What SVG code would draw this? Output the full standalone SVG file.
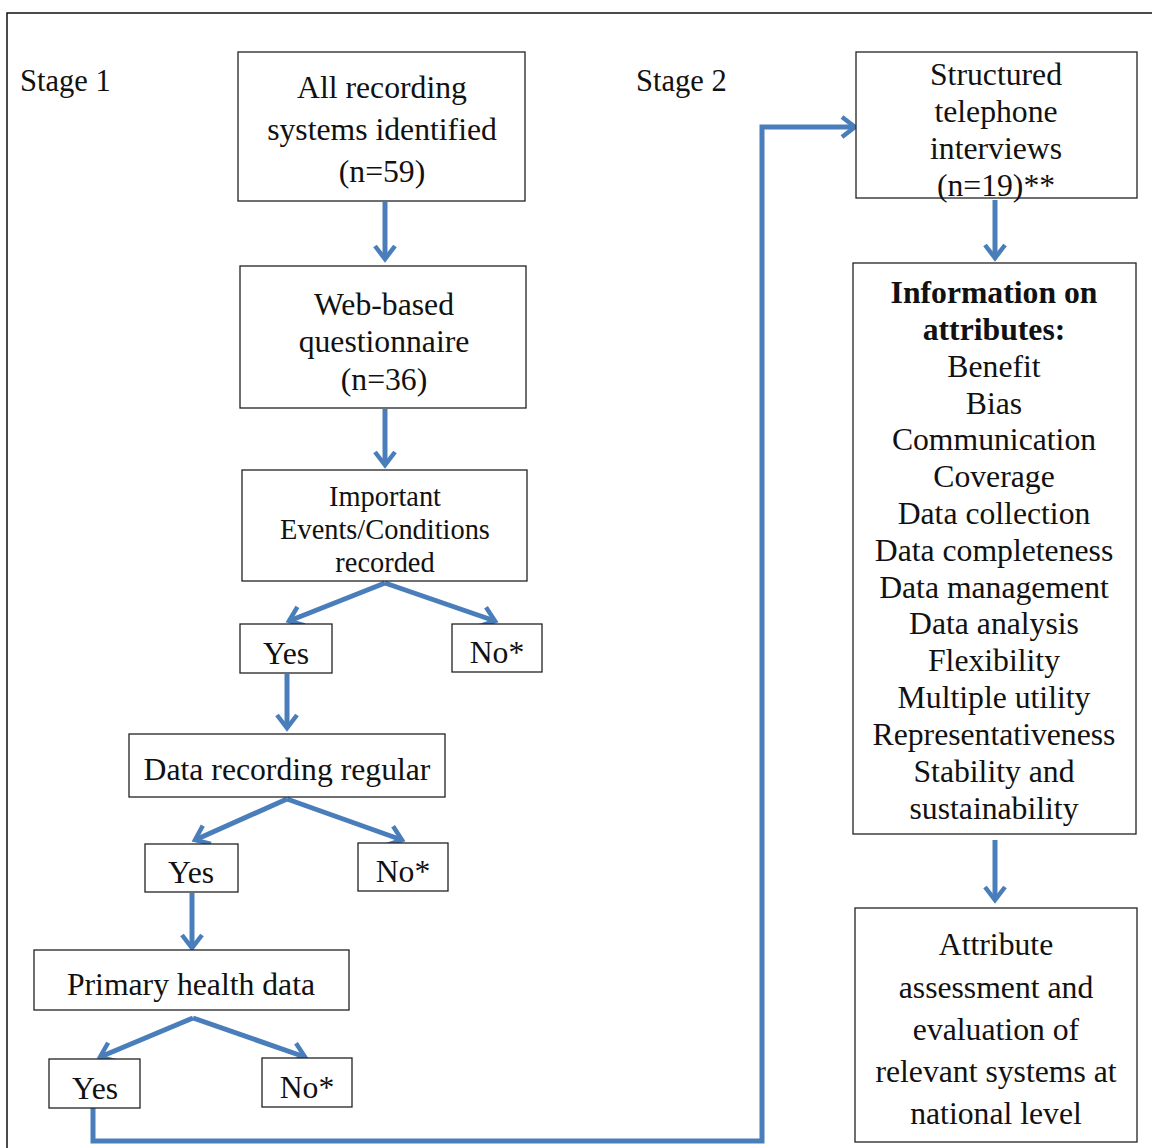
<svg xmlns="http://www.w3.org/2000/svg" width="1152" height="1148" viewBox="0 0 1152 1148">
<style>
.box{fill:#fff;stroke:#222;stroke-width:1.3}
text{font-family:"Liberation Serif","Times New Roman",serif;fill:#111;text-anchor:middle}
.t30{font-size:31.7px}
.t26{font-size:28.4px}
.lbl{font-size:30.5px;text-anchor:start}
.b{font-weight:bold}
.c{fill:none;stroke:#4a7ebb;stroke-width:5;stroke-linejoin:miter}
</style>
<defs>
<marker id="ah" markerUnits="userSpaceOnUse" markerWidth="26" markerHeight="26" refX="17" refY="13" orient="auto">
<path d="M4,3 L17,13 L4,23" fill="none" stroke="#4a7ebb" stroke-width="4.5"/>
</marker>
</defs>
<rect x="0" y="0" width="1152" height="1148" fill="#fff"/>
<rect x="7" y="13" width="1160" height="1160" fill="none" stroke="#111" stroke-width="1.5"/>
<text class="lbl" x="20" y="91">Stage 1</text>
<text class="lbl" x="636" y="91">Stage 2</text>
<g id="connectors">
<line class="c" x1="385" y1="202" x2="385" y2="259" marker-end="url(#ah)"/>
<line class="c" x1="385" y1="409" x2="385" y2="465" marker-end="url(#ah)"/>
<line class="c" x1="385" y1="583" x2="289" y2="621" marker-end="url(#ah)"/>
<line class="c" x1="385" y1="583" x2="495" y2="621" marker-end="url(#ah)"/>
<line class="c" x1="287" y1="674" x2="287" y2="728" marker-end="url(#ah)"/>
<line class="c" x1="287" y1="799" x2="195" y2="840" marker-end="url(#ah)"/>
<line class="c" x1="287" y1="799" x2="402" y2="840" marker-end="url(#ah)"/>
<line class="c" x1="192" y1="893" x2="192" y2="948" marker-end="url(#ah)"/>
<line class="c" x1="193" y1="1018" x2="100" y2="1057" marker-end="url(#ah)"/>
<line class="c" x1="193" y1="1018" x2="305" y2="1057" marker-end="url(#ah)"/>
<polyline class="c" points="93,1108 93,1141 762,1141 762,127 855,127" marker-end="url(#ah)"/>
<line class="c" x1="995" y1="200" x2="995" y2="258" marker-end="url(#ah)"/>
<line class="c" x1="995" y1="840" x2="995" y2="900" marker-end="url(#ah)"/>
</g>
<g id="n1">
<rect class="box" x="238" y="52" width="287" height="149"/>
<text class="t30" x="382" y="98">All recording</text>
<text class="t30" x="382" y="140">systems identified</text>
<text class="t30" x="382" y="182">(n=59)</text>
</g>
<g id="n2">
<rect class="box" x="240" y="266" width="286" height="142"/>
<text class="t30" x="384" y="315">Web-based</text>
<text class="t30" x="384" y="352">questionnaire</text>
<text class="t30" x="384" y="390">(n=36)</text>
</g>
<g id="n3">
<rect class="box" x="242" y="470" width="285" height="111"/>
<text class="t26" x="385" y="506">Important</text>
<text class="t26" x="385" y="539">Events/Conditions</text>
<text class="t26" x="385" y="572">recorded</text>
</g>
<g id="n4">
<rect class="box" x="240" y="624" width="92" height="49"/>
<text class="t30" x="286" y="664">Yes</text>
</g>
<g id="n5">
<rect class="box" x="452" y="624" width="90" height="48"/>
<text class="t30" x="497" y="663">No*</text>
</g>
<g id="n6">
<rect class="box" x="129" y="734" width="316" height="63"/>
<text class="t30" x="287" y="780">Data recording regular</text>
</g>
<g id="n7">
<rect class="box" x="145" y="844" width="93" height="48"/>
<text class="t30" x="191" y="883">Yes</text>
</g>
<g id="n8">
<rect class="box" x="358" y="843" width="90" height="48"/>
<text class="t30" x="403" y="882">No*</text>
</g>
<g id="n9">
<rect class="box" x="34" y="950" width="315" height="60"/>
<text class="t30" x="191" y="995">Primary health data</text>
</g>
<g id="n10">
<rect class="box" x="49" y="1059" width="91" height="49"/>
<text class="t30" x="95" y="1099">Yes</text>
</g>
<g id="n11">
<rect class="box" x="262" y="1058" width="90" height="49"/>
<text class="t30" x="307" y="1098">No*</text>
</g>
<g id="n12">
<rect class="box" x="856" y="52" width="281" height="146"/>
<text class="t30" x="996" y="85">Structured</text>
<text class="t30" x="996" y="122">telephone</text>
<text class="t30" x="996" y="159">interviews</text>
<text class="t30" x="996" y="196">(n=19)**</text>
</g>
<g id="n13">
<rect class="box" x="853" y="263" width="283" height="571"/>
<text class="t30 b" x="994" y="303">Information on</text>
<text class="t30 b" x="994" y="340">attributes:</text>
<text class="t30" x="994" y="377">Benefit</text>
<text class="t30" x="994" y="414">Bias</text>
<text class="t30" x="994" y="450">Communication</text>
<text class="t30" x="994" y="487">Coverage</text>
<text class="t30" x="994" y="524">Data collection</text>
<text class="t30" x="994" y="561">Data completeness</text>
<text class="t30" x="994" y="598">Data management</text>
<text class="t30" x="994" y="634">Data analysis</text>
<text class="t30" x="994" y="671">Flexibility</text>
<text class="t30" x="994" y="708">Multiple utility</text>
<text class="t30" x="994" y="745">Representativeness</text>
<text class="t30" x="994" y="782">Stability and</text>
<text class="t30" x="994" y="819">sustainability</text>
</g>
<g id="n14">
<rect class="box" x="855" y="908" width="282" height="234"/>
<text class="t30" x="996" y="955">Attribute</text>
<text class="t30" x="996" y="998">assessment and</text>
<text class="t30" x="996" y="1040">evaluation of</text>
<text class="t30" x="996" y="1082">relevant systems at</text>
<text class="t30" x="996" y="1124">national level</text>
</g>
</svg>
